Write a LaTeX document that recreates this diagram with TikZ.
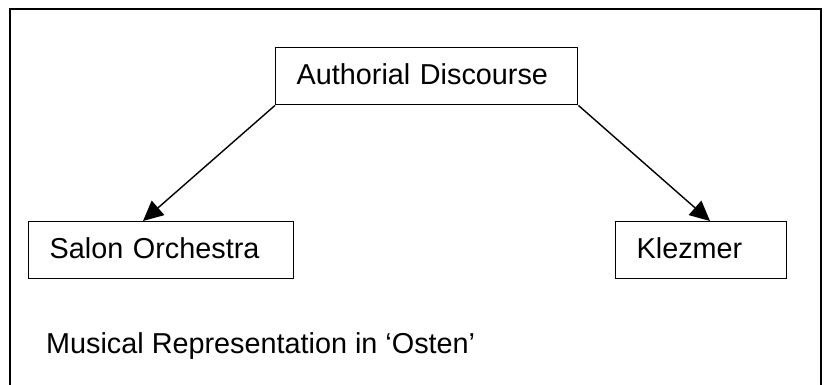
\documentclass[tikz,border=0pt]{standalone}
\usepackage{fontspec}
\setmainfont{Liberation Sans}
\usetikzlibrary{arrows.meta}
\begin{document}
\begin{tikzpicture}[x=1pt,y=-1pt,
  box/.style={draw=black, line width=1.4pt, inner xsep=21pt, inner ysep=0pt,
    align=left, text height=37pt, text depth=20pt, font=\fontsize{28.8}{34}\selectfont},
  plain/.style={inner sep=0pt, font=\fontsize{28.8}{34}\selectfont},
  arr/.style={line width=1.4pt, -{Triangle[length=20pt,width=19pt]}}]
\useasboundingbox (0,0) rectangle (824,385);
\fill[white] (0,0) rectangle (824,385);
\begin{scope}
\clip (0,0) rectangle (824,385);
\draw[line width=1.4pt] (10,400) -- (10,9) -- (821,9) -- (821,400);
\end{scope}
\node[box, text width=260pt, anchor=north west] (auth) at (275,47) {Authorial Discourse};
\node[box, text width=223pt, anchor=north west] (salon) at (28,221) {Salon Orchestra};
\node[box, text width=129pt, anchor=north west] (klez) at (615,221) {Klezmer};
\node[plain, anchor=base west] (title) at (46,353) {Musical Representation in ‘Osten’};
\draw[arr] (auth.south west) -- ([xshift=115pt]salon.north west);
\draw[arr] (auth.south east) -- ([xshift=95pt]klez.north west);
\end{tikzpicture}
\end{document}
